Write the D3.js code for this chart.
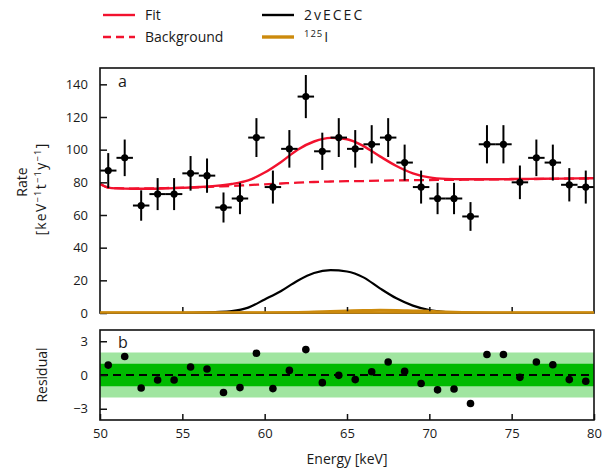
<!DOCTYPE html>
<html>
<head>
<meta charset="utf-8">
<script src="https://cdn.jsdelivr.net/npm/d3@7"></script>
<style>
  body { margin: 0; background: #fff; }
  svg text { font-family: "Open Sans", "Noto Sans", sans-serif; fill: #1a1a1a; }
</style>
</head>
<body>
<div id="chart"></div>
<script>

// measured spectrum, 1 keV bins
const binCenters = [50.5, 51.5, 52.5, 53.5, 54.5, 55.5, 56.5, 57.5, 58.5, 59.5,
  60.5, 61.5, 62.5, 63.5, 64.5, 65.5, 66.5, 67.5, 68.5, 69.5,
  70.5, 71.5, 72.5, 73.5, 74.5, 75.5, 76.5, 77.5, 78.5, 79.5];
const rates = [87.2, 95.0, 65.8, 72.8, 72.8, 85.5, 84.1, 64.6, 70.1, 107.4,
  77.1, 100.5, 132.5, 99.0, 107.4, 100.5, 103.3, 107.4, 92.1, 77.1,
  70.1, 70.1, 59.1, 103.3, 103.3, 80.0, 95.0, 92.1, 78.5, 77.1];
const rateErrors = [10.7, 11.2, 9.3, 9.8, 9.8, 10.6, 10.5, 9.2, 9.6, 11.9,
  10.1, 11.5, 13.2, 11.4, 11.9, 11.5, 11.7, 11.9, 11.0, 10.1,
  9.6, 9.6, 8.8, 11.7, 11.7, 10.3, 11.2, 11.0, 10.2, 10.1];
const residuals = [0.88, 1.65, -1.15, -0.44, -0.44, 0.71, 0.53, -1.56, -1.12, 1.94,
  -1.21, 0.41, 2.26, -0.68, -0.03, -0.41, 0.29, 1.15, 0.32, -0.76,
  -1.32, -1.24, -2.53, 1.82, 1.82, -0.21, 1.15, 0.91, -0.41, -0.56];

const curveEnergy = [50, 50.5, 51, 52, 53, 54, 55, 56, 57, 58, 59, 60, 61, 62, 63, 64,
  65, 66, 67, 68, 69, 70, 71, 72, 73, 74, 75, 76, 77, 78, 79, 80];
const fitRate = [79.0, 76.8, 76.3, 76.1, 76.1, 76.3, 76.6, 77.1, 77.8, 79.0, 81.2, 86.0,
  92.5, 100.0, 105.0, 107.2, 106.4, 102.2, 95.9, 90.0, 85.5, 83.0, 82.1, 81.9,
  81.9, 81.9, 82.0, 82.1, 82.2, 82.3, 82.4, 82.5];
const backgroundRate = [79.0, 76.8, 76.4, 76.2, 76.3, 76.5, 76.7, 77.0, 77.4, 77.8, 78.3, 78.8,
  79.3, 79.8, 80.2, 80.5, 80.7, 80.8, 81.0, 81.2, 81.3, 81.4, 81.5, 81.6,
  81.7, 81.8, 81.9, 82.0, 82.1, 82.2, 82.3, 82.4];
const ececRate = [0, 0, 0, 0, 0, 0, 0, 0.2, 0.6, 1.2, 3.3, 8.3,
  13.5, 19.8, 24.5, 26.2, 25.4, 21.8, 15.1, 9.0, 4.5, 1.8, 0.6, 0.2,
  0, 0, 0, 0, 0, 0, 0, 0];
const iodineRate = [0, 0, 0, 0, 0, 0, 0, 0, 0, 0, 0, 0,
  0.1, 0.3, 0.6, 0.9, 1.2, 1.5, 1.7, 1.6, 1.3, 1.0, 0.6, 0.3,
  0.1, 0, 0, 0, 0, 0, 0, 0];

const xTicks = [50, 55, 60, 65, 70, 75, 80];
const rateTicks = [0, 20, 40, 60, 80, 100, 120, 140];
const residualTicks = [-3, 0, 3];

const red = '#f2122e';
const orange = '#cc8a0c';

const width = 612;
const height = 470;
const plotLeft = 100;
const plotRight = 594;
const topPanel = { y0: 68, y1: 313 };
const bottomPanel = { y0: 330, y1: 420 };

const svg = d3.select('#chart')
  .append('svg')
  .attr('width', width)
  .attr('height', height);

const x = d3.scaleLinear().domain([50, 80]).range([plotLeft, plotRight]);
const y = d3.scaleLinear().domain([0, 150]).range([topPanel.y1, topPanel.y0]);
const yRes = d3.scaleLinear().domain([-4, 4]).range([bottomPanel.y1, bottomPanel.y0]);

svg.append('clipPath').attr('id', 'clipTop')
  .append('rect')
  .attr('x', plotLeft).attr('y', topPanel.y0)
  .attr('width', plotRight - plotLeft).attr('height', topPanel.y1 - topPanel.y0);

svg.append('clipPath').attr('id', 'clipBottom')
  .append('rect')
  .attr('x', plotLeft).attr('y', bottomPanel.y0)
  .attr('width', plotRight - plotLeft).attr('height', bottomPanel.y1 - bottomPanel.y0);

// ---- top panel

const gTop = svg.append('g').attr('clip-path', 'url(#clipTop)');

const line = (values) => d3.line()
  .x((d, i) => x(curveEnergy[i]))
  .y((d) => y(d))
  .curve(d3.curveMonotoneX)(values);

gTop.append('path')
  .attr('d', line(ececRate))
  .attr('fill', 'none')
  .attr('stroke', '#000')
  .attr('stroke-width', 2.2);

gTop.append('path')
  .attr('d', line(iodineRate))
  .attr('fill', 'none')
  .attr('stroke', orange)
  .attr('stroke-width', 3);

gTop.append('path')
  .attr('d', line(backgroundRate))
  .attr('fill', 'none')
  .attr('stroke', red)
  .attr('stroke-width', 2.3)
  .attr('stroke-dasharray', '10,5');

gTop.append('path')
  .attr('d', line(fitRate))
  .attr('fill', 'none')
  .attr('stroke', red)
  .attr('stroke-width', 2.4);

const points = gTop.selectAll('g.point')
  .data(binCenters)
  .enter()
  .append('g')
  .attr('class', 'point');

points.append('line')
  .attr('x1', (d) => x(d))
  .attr('x2', (d) => x(d))
  .attr('y1', (d, i) => y(rates[i] - rateErrors[i]))
  .attr('y2', (d, i) => y(rates[i] + rateErrors[i]))
  .attr('stroke', '#000')
  .attr('stroke-width', 2);

points.append('line')
  .attr('x1', (d) => x(d - 0.5))
  .attr('x2', (d) => x(d + 0.5))
  .attr('y1', (d, i) => y(rates[i]))
  .attr('y2', (d, i) => y(rates[i]))
  .attr('stroke', '#000')
  .attr('stroke-width', 2);

points.append('circle')
  .attr('cx', (d) => x(d))
  .attr('cy', (d, i) => y(rates[i]))
  .attr('r', 3.6)
  .attr('fill', '#000');

// axes top
svg.append('g')
  .attr('transform', `translate(${plotLeft},0)`)
  .call(d3.axisLeft(y).tickValues(rateTicks).tickSize(-7).tickPadding(12))
  .call((g) => g.select('.domain').remove());

svg.append('g')
  .attr('transform', `translate(0,${topPanel.y1})`)
  .call(d3.axisBottom(x).tickValues(xTicks.slice(1, -1)).tickSize(-6).tickFormat(''))
  .call((g) => g.select('.domain').remove());

svg.append('rect')
  .attr('x', plotLeft).attr('y', topPanel.y0)
  .attr('width', plotRight - plotLeft).attr('height', topPanel.y1 - topPanel.y0)
  .attr('fill', 'none')
  .attr('stroke', '#111')
  .attr('stroke-width', 1.6);

// the 125I line sits on the zero line
svg.append('line')
  .attr('x1', plotLeft).attr('x2', plotRight)
  .attr('y1', y(0) - 0.5).attr('y2', y(0) - 0.5)
  .attr('stroke', orange)
  .attr('stroke-width', 2.4);

svg.append('text')
  .attr('x', 118).attr('y', 87)
  .attr('font-size', 16)
  .text('a');

// ---- bottom panel

const gBottom = svg.append('g').attr('clip-path', 'url(#clipBottom)');

gBottom.append('rect')
  .attr('x', plotLeft).attr('width', plotRight - plotLeft)
  .attr('y', yRes(2)).attr('height', yRes(-2) - yRes(2))
  .attr('fill', '#a0e5a0');

gBottom.append('rect')
  .attr('x', plotLeft).attr('width', plotRight - plotLeft)
  .attr('y', yRes(1)).attr('height', yRes(-1) - yRes(1))
  .attr('fill', '#00ba00');

gBottom.append('line')
  .attr('x1', plotLeft).attr('x2', plotRight)
  .attr('y1', yRes(0)).attr('y2', yRes(0))
  .attr('stroke', '#000')
  .attr('stroke-width', 2)
  .attr('stroke-dasharray', '8,5');

gBottom.selectAll('circle')
  .data(binCenters)
  .enter()
  .append('circle')
  .attr('cx', (d) => x(d))
  .attr('cy', (d, i) => yRes(residuals[i]))
  .attr('r', 3.8)
  .attr('fill', '#000');

svg.append('g')
  .attr('transform', `translate(${plotLeft},0)`)
  .call(d3.axisLeft(yRes).tickValues(residualTicks).tickSize(-7).tickPadding(12))
  .call((g) => g.select('.domain').remove());

svg.append('g')
  .attr('transform', `translate(0,${bottomPanel.y1})`)
  .call(d3.axisBottom(x).tickValues(xTicks).tickSize(-6).tickPadding(9))
  .call((g) => g.select('.domain').remove());

svg.append('rect')
  .attr('x', plotLeft).attr('y', bottomPanel.y0)
  .attr('width', plotRight - plotLeft).attr('height', bottomPanel.y1 - bottomPanel.y0)
  .attr('fill', 'none')
  .attr('stroke', '#111')
  .attr('stroke-width', 1.6);

svg.append('text')
  .attr('x', 118).attr('y', 348)
  .attr('font-size', 16)
  .text('b');

svg.selectAll('.tick line')
  .attr('stroke', '#111')
  .attr('stroke-width', 1.5);

svg.selectAll('.tick text')
  .attr('font-size', 13)
  .attr('font-family', '"Open Sans", "Noto Sans", sans-serif')
  .attr('fill', '#1a1a1a');

// ---- axis titles

svg.append('text')
  .attr('transform', 'translate(27,182) rotate(-90)')
  .attr('text-anchor', 'middle')
  .attr('font-size', 14)
  .text('Rate');

const unitLabel = svg.append('text')
  .attr('transform', 'translate(46,189) rotate(-90)')
  .attr('text-anchor', 'middle')
  .attr('font-size', 14)
  .attr('letter-spacing', 1.2);

unitLabel.append('tspan').text('[keV');
unitLabel.append('tspan').attr('dy', -5).attr('font-size', 9.5).text('−1');
unitLabel.append('tspan').attr('dy', 5).text('t');
unitLabel.append('tspan').attr('dy', -5).attr('font-size', 9.5).text('−1');
unitLabel.append('tspan').attr('dy', 5).text('y');
unitLabel.append('tspan').attr('dy', -5).attr('font-size', 9.5).text('−1');
unitLabel.append('tspan').attr('dy', 5).text(']');

svg.append('text')
  .attr('transform', 'translate(47,375) rotate(-90)')
  .attr('text-anchor', 'middle')
  .attr('font-size', 14)
  .text('Residual');

svg.append('text')
  .attr('x', (plotLeft + plotRight) / 2)
  .attr('y', 464)
  .attr('text-anchor', 'middle')
  .attr('font-size', 14)
  .text('Energy [keV]');

// ---- legend

const legendItems = [
  { label: 'Fit', color: red, dash: null, width: 2.4, col: 0, row: 0 },
  { label: 'Background', color: red, dash: '8,5', width: 2.4, col: 0, row: 1 },
  { label: '2vECEC', color: '#000', dash: null, width: 2.4, col: 1, row: 0 },
  { label: 'I', sup: '125', color: orange, dash: null, width: 3.4, col: 1, row: 1 }
];

const legend = svg.append('g');

legendItems.forEach((item) => {
  const lx = item.col === 0 ? 103 : 262;
  const ly = item.row === 0 ? 15 : 37;
  legend.append('line')
    .attr('x1', lx).attr('x2', lx + 32)
    .attr('y1', ly).attr('y2', ly)
    .attr('stroke', item.color)
    .attr('stroke-width', item.width)
    .attr('stroke-dasharray', item.dash);
  const t = legend.append('text')
    .attr('x', lx + 42)
    .attr('y', ly + 5)
    .attr('font-size', 14);
  if (item.sup) {
    t.append('tspan').attr('dy', -5).attr('font-size', 9.5).attr('letter-spacing', 1).text(item.sup);
    t.append('tspan').attr('dy', 5).attr('dx', 1).text(item.label);
  } else {
    t.text(item.label);
    if (item.label === '2vECEC') t.attr('letter-spacing', 2);
  }
});

</script>
</body>
</html>
